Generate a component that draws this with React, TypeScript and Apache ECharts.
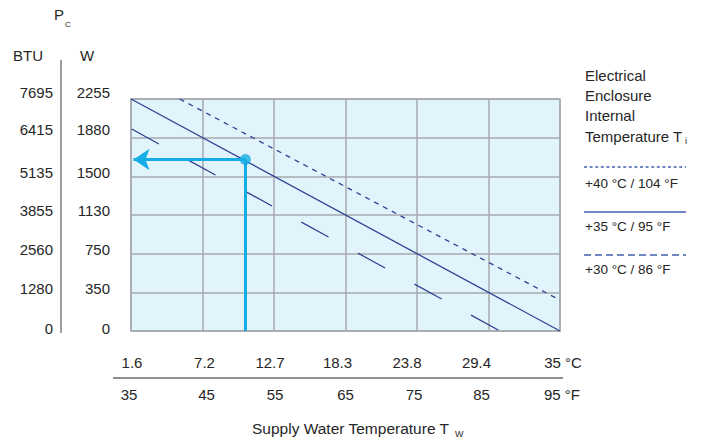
import React, { useEffect, useRef } from "react";
import * as echarts from "echarts";

// Axis tick labels
const W_LABELS = ["0", "350", "750", "1130", "1500", "1880", "2255"];
const BTU_LABELS = ["0", "1280", "2560", "3855", "5135", "6415", "7695"];
const C_LABELS = ["1.6", "7.2", "12.7", "18.3", "23.8", "29.4", "35 °C"];
const F_LABELS = ["35", "45", "55", "65", "75", "85", "95 °F"];
const F_MIN = 35;
const F_MAX = 95;
const F_STEP = 10;
const W_MAX = 2255;
const W_STEP = W_MAX / 6;

// Series: [supply water °F, cooling power W]
const line40 = [
  [41.8, 2255],
  [95, 300],
];
const line35 = [
  [35, 2255],
  [95, 0],
];
const line30 = [
  [35.1, 1963],
  [86.6, 0],
];
// Reading example
const examplePoint = [[51, 1667]];
const exampleUp = [
  [51, 0],
  [51, 1667],
];
const exampleLeft = [
  [51, 1667],
  [35.35, 1667],
];

const LEGEND = ["+40 °C / 104 °F", "+35 °C / 95 °F", "+30 °C / 86 °F"];

// label layout nudges (px), styling only
const Y_LIFT = [3, 4, 4, 5, 4, 8, 7];
const C_SHIFT = [1, 2, -4, -8, -10, -12, 3];
const F_SHIFT = [-2, 4, 1, 0, -3, -7, 2];

const NAVY = "#2f4294";
const LEG = "#4462b0";
const CYAN = "#16ace6";
const GRID = "#a5aaaf";
const TXT = "#262626";
const FONT = "'Liberation Sans', Arial, Helvetica, sans-serif";

export default function App() {
  const ref = useRef<HTMLDivElement>(null);
  useEffect(() => {
    if (!ref.current) return;
    const chart = echarts.init(ref.current, null, { renderer: "svg" });
    const fIdx = (v: number) => Math.round((v - F_MIN) / F_STEP);
    const wIdx = (v: number) => Math.round(v / W_STEP);
    const txt = (x: number, y: number, text: string, size: number, align = "left", vAlign = "middle") => ({
      type: "text",
      x,
      y,
      silent: true,
      style: { text, fill: TXT, font: `${size}px ${FONT}`, align, verticalAlign: vAlign },
    });
    const hline = (x1: number, x2: number, y: number, dash: any, color = LEG, w = 1.4) => ({
      type: "line",
      silent: true,
      shape: { x1, y1: y, x2, y2: y },
      style: { stroke: color, lineWidth: w, lineDash: dash },
    });
    const textRich: any = { t: { fontSize: 15, color: TXT, fontFamily: FONT } };
    const shiftRich = (prefix: string, shifts: number[]) => {
      const r: any = { ...textRich };
      shifts.forEach((s, i) => {
        r[prefix + i] = { width: Math.max(0.01, Math.abs(s) * 2), fontSize: 15, fontFamily: FONT };
      });
      return r;
    };
    const shifted = (prefix: string, shifts: number[], labels: string[]) => (v: number) => {
      const i = fIdx(v);
      const s = shifts[i];
      return s >= 0 ? `{${prefix}${i}|}{t|${labels[i]}}` : `{t|${labels[i]}}{${prefix}${i}|}`;
    };
    const yRich: any = {};
    Y_LIFT.forEach((l, i) => {
      yRich["y" + i] = { lineHeight: l * 2, fontSize: 15, color: TXT, fontFamily: FONT };
    });
    const yLabel = (labels: string[]) => (v: number) => {
      const i = wIdx(v);
      return `{y${i}|${labels[i]}}`;
    };
    chart.setOption({
      animation: false,
      textStyle: { fontFamily: FONT },
      grid: {
        left: 131,
        top: 99,
        width: 429,
        height: 232,
        show: true,
        backgroundColor: "#e1f3fb",
        borderColor: GRID,
        borderWidth: 1.5,
      },
      xAxis: [
        {
          type: "value",
          min: F_MIN,
          max: F_MAX,
          interval: F_STEP,
          position: "bottom",
          axisLine: { show: false },
          axisTick: { show: false },
          splitLine: { show: true, lineStyle: { color: GRID, width: 1.5 } },
          axisLabel: {
            margin: 56,
            color: TXT,
            fontSize: 15,
            fontFamily: FONT,
            formatter: shifted("f", F_SHIFT, F_LABELS),
            rich: shiftRich("f", F_SHIFT),
          },
        },
        {
          type: "value",
          min: F_MIN,
          max: F_MAX,
          interval: F_STEP,
          position: "bottom",
          axisLine: { show: false },
          axisTick: { show: false },
          splitLine: { show: false },
          axisLabel: {
            margin: 24,
            color: TXT,
            fontSize: 15,
            fontFamily: FONT,
            formatter: shifted("c", C_SHIFT, C_LABELS),
            rich: shiftRich("c", C_SHIFT),
          },
        },
      ],
      yAxis: [
        {
          type: "value",
          min: 0,
          max: W_MAX,
          interval: W_STEP,
          position: "left",
          axisLine: { show: false },
          axisTick: { show: false },
          splitLine: { show: true, lineStyle: { color: GRID, width: 1.5 } },
          axisLabel: {
            margin: 21,
            color: TXT,
            fontSize: 15,
            fontFamily: FONT,
            verticalAlign: "bottom",
            formatter: yLabel(W_LABELS),
            rich: yRich,
          },
        },
        {
          type: "value",
          min: 0,
          max: W_MAX,
          interval: W_STEP,
          position: "left",
          axisLine: { show: false },
          axisTick: { show: false },
          splitLine: { show: false },
          axisLabel: {
            margin: 78,
            color: TXT,
            fontSize: 15,
            fontFamily: FONT,
            verticalAlign: "bottom",
            formatter: yLabel(BTU_LABELS),
            rich: yRich,
          },
        },
      ],
      series: [
        {
          name: LEGEND[0],
          type: "line",
          data: line40,
          showSymbol: false,
          lineStyle: { color: NAVY, width: 1.3, type: [5, 5] },
        },
        {
          name: LEGEND[1],
          type: "line",
          data: line35,
          showSymbol: false,
          lineStyle: { color: NAVY, width: 1.3 },
        },
        {
          name: LEGEND[2],
          type: "line",
          data: line30,
          showSymbol: false,
          lineStyle: { color: NAVY, width: 1.3, type: [31, 33.5] },
        },
        {
          type: "lines",
          coordinateSystem: "cartesian2d",
          data: [{ coords: exampleUp }],
          symbol: ["none", "none"],
          lineStyle: { color: CYAN, width: 3, opacity: 1, curveness: 0 },
          z: 5,
        },
        {
          type: "lines",
          coordinateSystem: "cartesian2d",
          data: [{ coords: exampleLeft }],
          symbol: ["none", "arrow"],
          symbolSize: 16,
          lineStyle: { color: CYAN, width: 3, opacity: 1, curveness: 0 },
          z: 5,
        },
        {
          type: "scatter",
          data: examplePoint,
          symbolSize: 11,
          itemStyle: { color: CYAN },
          z: 6,
        },
      ],
      graphic: [
        txt(59, 14, "P", 15, "center"),
        txt(65, 24, "C", 8, "left"),
        txt(28, 55, "BTU", 15, "center"),
        txt(87, 55, "W", 15, "center"),
        {
          type: "line",
          silent: true,
          shape: { x1: 61, y1: 60, x2: 61, y2: 333 },
          style: { stroke: "#6b6b6b", lineWidth: 1.3 },
        },
        {
          type: "line",
          silent: true,
          shape: { x1: 113, y1: 378, x2: 563, y2: 378 },
          style: { stroke: "#6b6b6b", lineWidth: 1.3 },
        },
        txt(252, 428, "Supply Water Temperature T", 15.5, "left"),
        txt(455, 434, "W", 9, "left"),
        txt(585, 75, "Electrical", 15),
        txt(585, 95, "Enclosure", 15),
        txt(585, 115, "Internal", 15),
        txt(585, 136, "Temperature T", 15),
        txt(685, 141, "i", 9),
        hline(584, 686, 167, [3, 2.6]),
        txt(585, 183, LEGEND[0], 13.5),
        hline(584, 686, 212, null),
        txt(585, 226, LEGEND[1], 13.5),
        hline(584, 686, 255, [7, 4]),
        txt(585, 269, LEGEND[2], 13.5),
      ],
    });
    return () => chart.dispose();
  }, []);
  return (
    <div
      ref={ref}
      style={{ position: "fixed", left: 0, top: 0, width: 704, height: 440, background: "#fff" }}
    />
  );
}
